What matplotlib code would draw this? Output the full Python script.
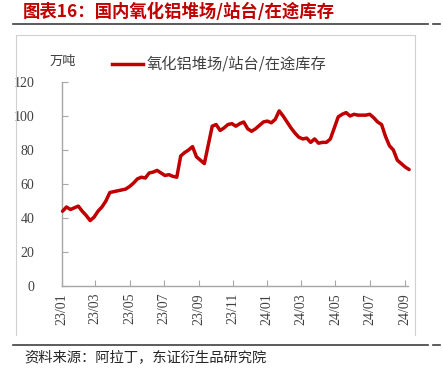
import matplotlib
matplotlib.use("Agg")
import matplotlib.pyplot as plt
import matplotlib.dates as mdates
import numpy as np
import pandas as pd
from matplotlib.lines import Line2D

# ---- data ----
start_date = "2023-01-02"
values = [
    44, 46.5, 45, 46, 47, 44, 41.5, 38.5, 40.5, 44,
    46.5, 50, 55, 55.5, 56, 56.5, 57, 58.5, 60.5, 63,
    64, 63.5, 66.5, 67, 68, 66.5, 65, 65.5, 64.5, 64,
    76.5, 78.5, 80, 82, 76, 74, 72, 83, 94, 95,
    91.5, 93, 95, 95.5, 94, 95.5, 96.5, 92.5, 91, 92.5,
    94.5, 96.5, 97, 96, 98, 103, 100, 96.5, 93, 90,
    87.5, 86.5, 87, 84.5, 86.5, 84, 84.5, 84.5, 86.5, 93,
    99.5, 101, 102, 100, 101, 100.5, 100.5, 100.5, 101, 99,
    96.5, 95, 88, 82.5, 80, 74, 72, 70, 68.5,
]
dates = pd.date_range(start_date, periods=len(values), freq="7D")
series_name = "氧化铝堆场/站台/在途库存"
unit_label = "万吨"
title = "图表16：国内氧化铝堆场/站台/在途库存"
source = "资料来源：阿拉丁，东证衍生品研究院"
tick_months = pd.date_range("2023-01-01", "2024-09-01", freq="2MS")
tick_labels = [d.strftime("%y/%m") for d in tick_months]
y_ticks = [0, 20, 40, 60, 80, 100, 120]

W, H = 443, 384
CJK = ["Noto Sans CJK SC", "DejaVu Sans"]
SERIF = "Liberation Serif"
RED = "#C00000"

fig = plt.figure(figsize=(W / 100, H / 100), dpi=100)

def fx(px):
    return px / W

def fy(py):
    return 1 - py / H

ax = fig.add_axes([fx(62), fy(286), fx(408) - fx(62), fy(82) - fy(286)])
ax.plot(dates, values, color=RED, lw=2.5, solid_joinstyle="round",
        solid_capstyle="round", clip_on=False, zorder=3)

ax.set_ylim(0, 120)
ax.set_yticks(y_ticks)
ax.set_xlim(pd.Timestamp("2023-01-01"), pd.Timestamp("2024-09-07"))
ax.set_xticks(tick_months)
ax.set_xticklabels(tick_labels, rotation=90, fontfamily=SERIF, fontsize=10,
                   color="#404040")
for lab in ax.get_yticklabels():
    lab.set_fontfamily(SERIF)
    lab.set_fontsize(10)
    lab.set_color("#404040")

for s in ["top", "right"]:
    ax.spines[s].set_visible(False)
for s in ["left", "bottom"]:
    ax.spines[s].set_color("#A6A6A6")
    ax.spines[s].set_linewidth(1.0)
ax.tick_params(axis="both", direction="in", length=4, width=0.8,
               color="#A6A6A6")
ax.tick_params(axis="y", pad=20)
ax.tick_params(axis="x", pad=5)
for lab in ax.get_yticklabels():
    lab.set_horizontalalignment("right")

# legend
fig.add_artist(Line2D([fx(112), fx(143)], [fy(64), fy(64)], color=RED, lw=2.5))
fig.text(fx(147), fy(64), series_name, family=CJK, fontsize=11,
         color="#404040", va="center", ha="left")
fig.text(fx(50), fy(61), unit_label, family=CJK, fontsize=9.5,
         color="#404040", va="center", ha="left")

# title
fig.text(fx(23), fy(12), title, family=CJK, fontsize=12.5, fontweight="bold",
         color=RED, va="center", ha="left")

# rules
for yy in (24, 345):
    fig.add_artist(Line2D([fx(13), fx(428)], [fy(yy), fy(yy)], color="#404040", lw=1.2))
    fig.add_artist(Line2D([fx(433), fx(440)], [fy(yy), fy(yy)], color="#404040", lw=1.2))

# frame
frame_c = "#D0D0D0"
fig.add_artist(Line2D([fx(16), fx(415)], [fy(35), fy(35)], color=frame_c, lw=0.8))
fig.add_artist(Line2D([fx(16), fx(16)], [fy(35), fy(335)], color=frame_c, lw=0.8))
fig.add_artist(Line2D([fx(415), fx(415)], [fy(35), fy(335)], color=frame_c, lw=0.8))

# source
fig.text(fx(24), fy(357), source, family=CJK, fontsize=10.3,
         color="#262626", va="center", ha="left")

fig.savefig("out.png", dpi=100)
